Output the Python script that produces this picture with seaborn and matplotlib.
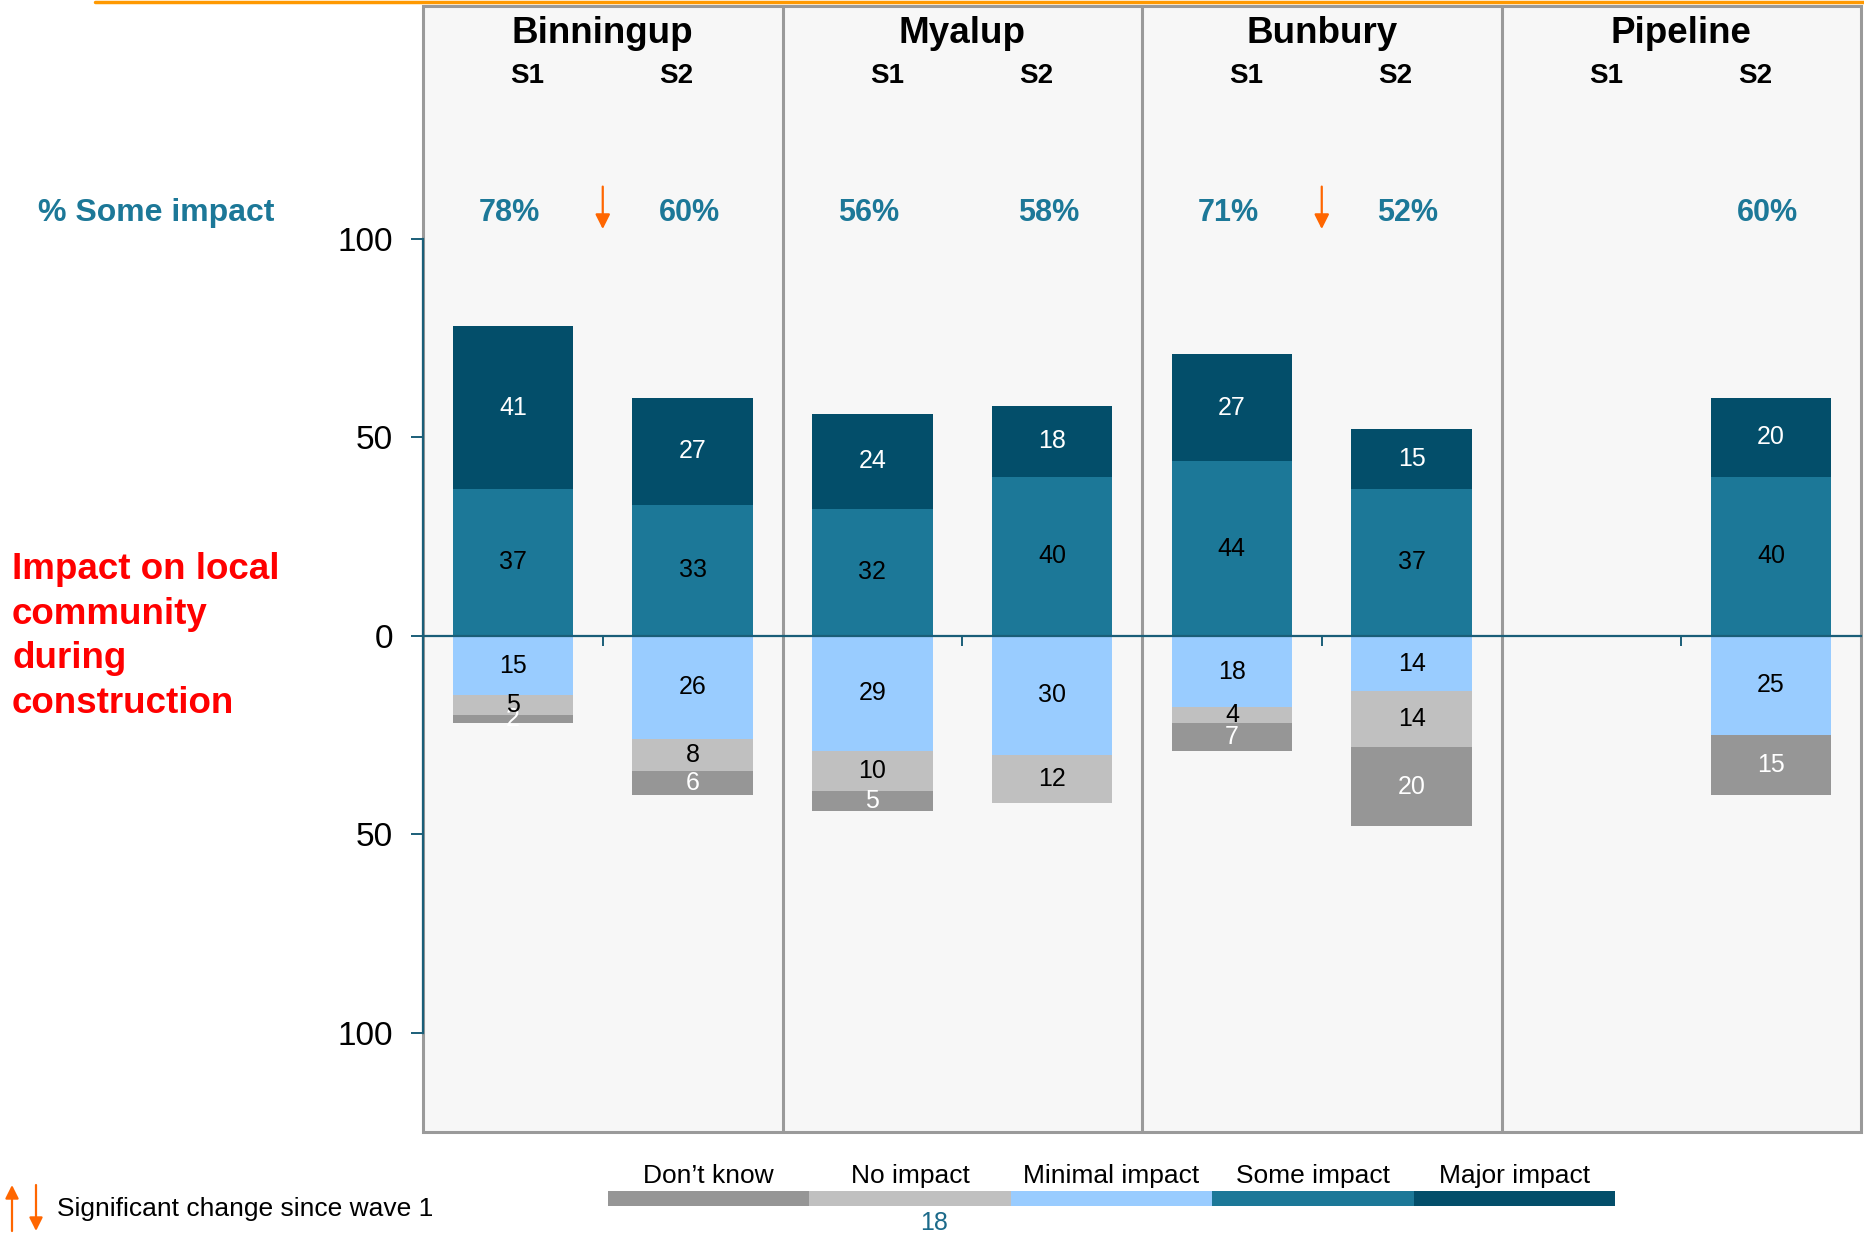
import numpy as np
import pandas as pd
import matplotlib
matplotlib.use('Agg')
import matplotlib.pyplot as plt
from matplotlib.patches import Rectangle
from matplotlib.lines import Line2D
import seaborn as sns

# survey results, % of respondents (S1, S2 per location)
locations = ['Binningup', 'Myalup', 'Bunbury', 'Pipeline']
waves = ['S1', 'S2']
major_impact = [41, 27, 24, 18, 27, 15, np.nan, 20]
some_impact = [37, 33, 32, 40, 44, 37, np.nan, 40]
minimal_impact = [15, 26, 29, 30, 18, 14, np.nan, 25]
no_impact = [5, 8, 10, 12, 4, 14, np.nan, 0]
dont_know = [2, 6, 5, 0, 7, 20, np.nan, 15]
sig_down = ['Binningup', 'Bunbury']  # significant drop since wave 1

legend_labels = ['Don\u2019t know', 'No impact', 'Minimal impact', 'Some impact', 'Major impact']
colors = ['#969696', '#c0c0c0', '#99ccff', '#1c7898', '#034e6a']
label_colors = ['white', 'black', 'black', 'black', 'white']
y_ticks = [-100, -50, 0, 50, 100]

TEAL = '#1c7898'
AXIS = '#1a5e78'
GREY = '#9a9a9a'
ORANGE = '#ff6600'

sns.set_theme(style='white')
plt.rcParams['font.family'] = ['Liberation Sans', 'DejaVu Sans']
plt.rcParams['text.color'] = 'black'

bars = [f'{loc} {w}' for loc in locations for w in waves]
df = pd.DataFrame({'bar': bars, 'major': major_impact, 'some': some_impact,
                   'minimal': minimal_impact, 'no': no_impact, 'dk': dont_know})
df['pos_top'] = df['some'] + df['major']
df['neg_min'] = -df['minimal']
df['neg_no'] = -(df['minimal'] + df['no'])
df['neg_dk'] = -(df['minimal'] + df['no'] + df['dk'])
plot_df = df.dropna()

W, H = 1864, 1235
fig = plt.figure(figsize=(W / 100, H / 100), dpi=100)
ax = fig.add_axes([423 / W, 1 - 1132 / H, (1861 - 423) / W, (1132 - 6) / H])
ax.set_facecolor('#f7f7f7')

# stacked diverging bars: draw cumulative totals, largest first
layers = [('pos_top', colors[4]), ('some', colors[3]),
          ('neg_dk', colors[0]), ('neg_no', colors[1]), ('neg_min', colors[2])]
for col, c in layers:
    sns.barplot(data=plot_df, x='bar', y=col, order=bars, color=c, saturation=1,
                width=0.67, errorbar=None, linewidth=0, ax=ax)

ax.set_xlim(-0.5, len(bars) - 0.5)
ax.set_ylim(-125, 158.7)
ax.set_xlabel('')
ax.set_ylabel('')

# segment labels
for i, row in df.iterrows():
    if np.isnan(row['some']):
        continue
    segs = [
        (row['dk'], -(row['minimal'] + row['no'] + row['dk'] / 2), 0),
        (row['no'], -(row['minimal'] + row['no'] / 2), 1),
        (row['minimal'], -row['minimal'] / 2, 2),
        (row['some'], row['some'] / 2, 3),
        (row['major'], row['some'] + row['major'] / 2, 4),
    ]
    for val, yc, k in segs:
        if val > 0:
            ax.text(i, yc, f'{val:.0f}', ha='center', va='center', fontsize=18,
                    color=label_colors[k], zorder=4)
    ax.text(i - 0.02, 106.5, f'{row["pos_top"]:.0f}%', ha='center', va='center',
            fontsize=22, fontweight='bold', color=TEAL)

# panel headers
for g, loc in enumerate(locations):
    cx = 2 * g + 0.5
    ax.text(cx, 151.7, loc, ha='center', va='center', fontsize=26.5, fontweight='bold')
    ax.text(cx - 0.42, 141.0, waves[0], ha='center', va='center', fontsize=20, fontweight='bold')
    ax.text(cx + 0.41, 141.0, waves[1], ha='center', va='center', fontsize=20, fontweight='bold')
    if g > 0:
        ax.axvline(2 * g - 0.5, color=GREY, lw=2.2, zorder=2.4)
    if loc in sig_down:
        ax.annotate('', xy=(cx, 102.5), xytext=(cx, 113.2),
                    arrowprops=dict(arrowstyle='-|>', color=ORANGE, lw=1.6,
                                    mutation_scale=22, shrinkA=0, shrinkB=0))

# frame, axes lines and ticks
for s in ['top', 'right']:
    ax.spines[s].set_visible(False)
ax.add_patch(Rectangle((0, 0), 1, 1, transform=ax.transAxes, fill=False,
                       ec=GREY, lw=2.2, zorder=2.4, clip_on=False))
ax.spines['left'].set_bounds(-100, 100)
ax.spines['left'].set_color(AXIS)
ax.spines['left'].set_linewidth(1.6)
ax.spines['left'].set_zorder(3)
ax.spines['bottom'].set_position(('data', 0))
ax.spines['bottom'].set_color(AXIS)
ax.spines['bottom'].set_linewidth(1.6)
ax.spines['bottom'].set_zorder(3)

ax.set_yticks(y_ticks)
ax.set_yticklabels([str(abs(t)) for t in y_ticks])
ax.tick_params(axis='y', left=True, length=8.5, width=1.4, color=AXIS, pad=13,
               labelsize=24, labelcolor='black')
ax.set_xticks(np.arange(0.5, len(bars), 1))
ax.set_xticklabels([])
ax.tick_params(axis='x', bottom=True, direction='out', length=7, width=1.4, color=AXIS)

# left-hand titles
fig.text(38 / W, 1 - 213 / H, '% Some impact', color=TEAL, fontsize=23,
         fontweight='bold', va='center', ha='left')
fig.text(12 / W, 1 - 713 / H, 'Impact on local\ncommunity\nduring\nconstruction',
         color='#ff0000', fontsize=26.5, fontweight='bold', va='baseline', ha='left',
         linespacing=1.36)

# top rule
fig.add_artist(Line2D([95 / W, 1], [1 - 1.5 / H] * 2, color='#ff9900', lw=2.5))

# colour legend strip
ax_leg = fig.add_axes([608 / W, 1 - 1206 / H, (1615 - 608) / W, 15 / H])
ax_leg.bar(np.arange(len(colors)), 1, width=1, color=colors, linewidth=0)
ax_leg.set_xlim(-0.5, len(colors) - 0.5)
ax_leg.set_ylim(0, 1)
ax_leg.axis('off')
for k, lab in enumerate(legend_labels):
    ax_leg.text(k, 2.0, lab, ha='center', va='center', fontsize=19, clip_on=False)

fig.text(934 / W, 1 - 1223 / H, '18', color='#1c6a8a', fontsize=18, ha='center', va='center')

# significance key
ax.annotate('', xy=(12, 50), xytext=(12, 4), xycoords='figure pixels',
            textcoords='figure pixels',
            arrowprops=dict(arrowstyle='-|>', color=ORANGE, lw=1.6, mutation_scale=20,
                            shrinkA=0, shrinkB=0))
ax.annotate('', xy=(36, 4), xytext=(36, 50), xycoords='figure pixels',
            textcoords='figure pixels',
            arrowprops=dict(arrowstyle='-|>', color=ORANGE, lw=1.6, mutation_scale=20,
                            shrinkA=0, shrinkB=0))
fig.text(57 / W, 1 - 1209 / H, 'Significant change since wave 1', fontsize=19,
         ha='left', va='center')

fig.savefig('out.png', dpi=100)
